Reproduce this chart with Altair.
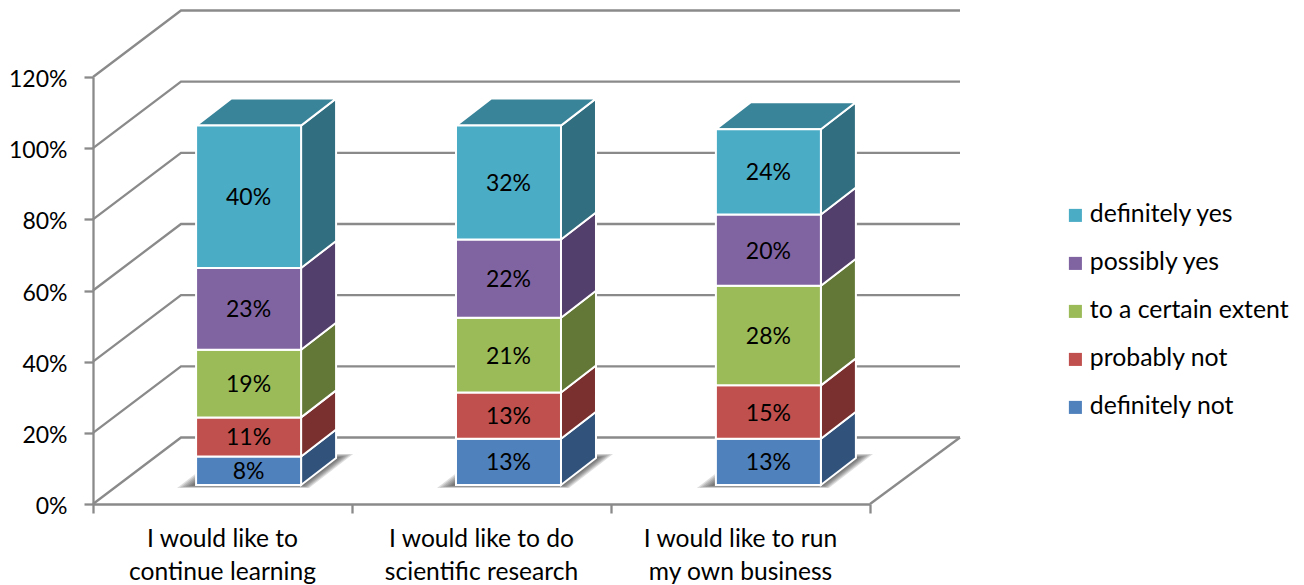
import altair as alt
import pandas as pd

# Survey answers per statement, in percent
statements = ["I would like to\ncontinue learning",
              "I would like to do\nscientific research",
              "I would like to run\nmy own business"]
answers = ["definitely not", "probably not", "to a certain extent", "possibly yes", "definitely yes"]
definitely_not = [8, 13, 13]
probably_not = [11, 13, 15]
certain_extent = [19, 21, 28]
possibly_yes = [23, 22, 20]
definitely_yes = [40, 32, 24]
series = [definitely_not, probably_not, certain_extent, possibly_yes, definitely_yes]

front_colors = ["#4F81BD", "#C0504D", "#9BBB59", "#8064A2", "#4BACC6"]
side_colors = ["#31527A", "#7A302E", "#637837", "#533F6B", "#306E80"]
top_color = "#3A8499"
line_color = "#8A8A8A"
font = "Lato"

# Size of the plot box and the pixel-to-data ratios used for the oblique projection
W, H = 777, 427
PX = 3 / W
PY = 120 / H
wall_dx, wall_dy = 88 * PX, 66.5 * PY        # depth of the walls and floor
wall_end = 3 + 90 * PX                       # right end of the back wall
depth_dx, depth_dy = 35 * PX, 27 * PY        # depth of each column
base = 19 * PY                               # columns stand partway into the floor
bar_w = 105 * PX
bar_left = [0.398 + i * 1.0035 for i in range(3)]

# Walls and floor
wall_rows = []
for v in range(0, 121, 20):
    wall_rows += [dict(id=v, x=0, y=v), dict(id=v, x=wall_dx, y=v + wall_dy),
                  dict(id=v, x=wall_end, y=v + wall_dy)]
wall_rows += [dict(id="edge", x=3, y=0), dict(id="edge", x=wall_end, y=wall_dy)]

# Column faces
front, side, top, shadow, labels = [], [], [], [], []
for i, left in enumerate(bar_left):
    right = left + bar_w
    y0 = base
    for k, name in enumerate(answers):
        value = series[k][i]
        y1 = y0 + value
        front.append(dict(x=left, x2=right, y=y0, y2=y1, answer=name))
        labels.append(dict(x=(left + right) / 2, y=(y0 + y1) / 2, text=f"{value}%"))
        face = f"{i}-{k}"
        side += [dict(face=face, x=right, y=y0, y2=y1, fill=side_colors[k]),
                 dict(face=face, x=right + depth_dx, y=y0 + depth_dy, y2=y1 + depth_dy, fill=side_colors[k])]
        y0 = y1
    top += [dict(face=i, x=left, x2=right, y=y0),
            dict(face=i, x=left + depth_dx, x2=right + depth_dx, y=y0 + depth_dy)]
    # Soft floor shadow built from nested translucent footprints
    for s, spread in enumerate([1.0, 0.85, 0.7, 0.55, 0.4, 0.25, 0.1]):
        low = base - 3 * PY * spread
        high = base + (27 + 4 * spread) * PY
        slope = depth_dx / depth_dy
        lx = left - 19 * PX * spread
        rx = right + 8 * PX * spread
        sid = f"{i}-{s}"
        shadow += [dict(face=sid, x=lx, x2=rx, y=low),
                   dict(face=sid, x=lx + (high - low) * slope, x2=rx + (high - low) * slope, y=high)]

x_scale = alt.Scale(domain=[0, 3], nice=False, zero=False)
y_scale = alt.Scale(domain=[0, 120], nice=False, zero=False)

axis_style = dict(domainColor=line_color, domainWidth=2.3, tickColor=line_color, tickWidth=2.3,
                  tickSize=9, grid=False, title=None, labelFont=font, labelFontSize=23,
                  labelColor="black")
x_enc = alt.X("x:Q", scale=x_scale, title=None,
              axis=alt.Axis(values=[0, 1, 2, 3], labels=False, **axis_style))
y_enc = alt.Y("y:Q", scale=y_scale, title=None,
              axis=alt.Axis(values=list(range(0, 121, 20)), labelPadding=17, labelOffset=2.5,
                            labelExpr="datum.value + '%'", **axis_style))
x_plain = alt.X("x:Q", scale=x_scale, title=None)
y_plain = alt.Y("y:Q", scale=y_scale, title=None)
x_end = alt.X2("x2:Q", title=None)
y_end = alt.Y2("y2:Q", title=None)

walls = alt.Chart(pd.DataFrame(wall_rows)).mark_line(color=line_color, strokeWidth=2.3).encode(
    x=x_enc, y=y_enc, detail="id:N")

shadows = alt.Chart(pd.DataFrame(shadow)).mark_area(orient="horizontal", color="#303030", opacity=0.16).encode(
    x=x_plain, x2=x_end, y=y_plain, detail="face:N")

sides = alt.Chart(pd.DataFrame(side)).mark_area(stroke="white", strokeWidth=2).encode(
    x=x_plain, y=y_plain, y2=y_end, detail="face:N",
    fill=alt.Fill("fill:N", scale=None))

tops = alt.Chart(pd.DataFrame(top)).mark_area(orient="horizontal", fill=top_color, stroke="white", strokeWidth=2).encode(
    x=x_plain, x2=x_end, y=y_plain, detail="face:N")

fronts = alt.Chart(pd.DataFrame(front)).mark_rect(stroke="white", strokeWidth=2).encode(
    x=x_plain, x2=x_end, y=y_plain, y2=y_end,
    color=alt.Color("answer:N",
                    scale=alt.Scale(domain=answers[::-1], range=front_colors[::-1]),
                    legend=alt.Legend(orient="none", legendX=970, legendY=126, title=None,
                                      symbolType="square", symbolSize=170, symbolStrokeWidth=0,
                                      labelFont=font, labelFontSize=24.8, labelColor="black",
                                      labelOffset=2, labelLimit=300, rowPadding=22)))

value_text = alt.Chart(pd.DataFrame(labels)).mark_text(font=font, fontSize=23, color="black", dy=1.5).encode(
    x=x_plain, y=y_plain, text="text:N")

category_df = pd.DataFrame(dict(x=[i + 0.5 for i in range(3)], text=statements))
category_text = alt.Chart(category_df).mark_text(
    font=font, fontSize=24.6, color="black", baseline="top", lineBreak="\n", lineHeight=33
).encode(x=x_plain, y=alt.value(H + 24), text="text:N")

chart = alt.layer(walls, shadows, sides, tops, fronts, value_text, category_text).properties(
    width=W, height=H,
    padding={"left": 93, "top": 77, "right": 434, "bottom": 81},
    autosize=alt.AutoSizeParams(type="none"),
    background="white",
).configure_view(stroke=None)

chart.save("out.html", embed_options={"renderer": "svg", "actions": False})
